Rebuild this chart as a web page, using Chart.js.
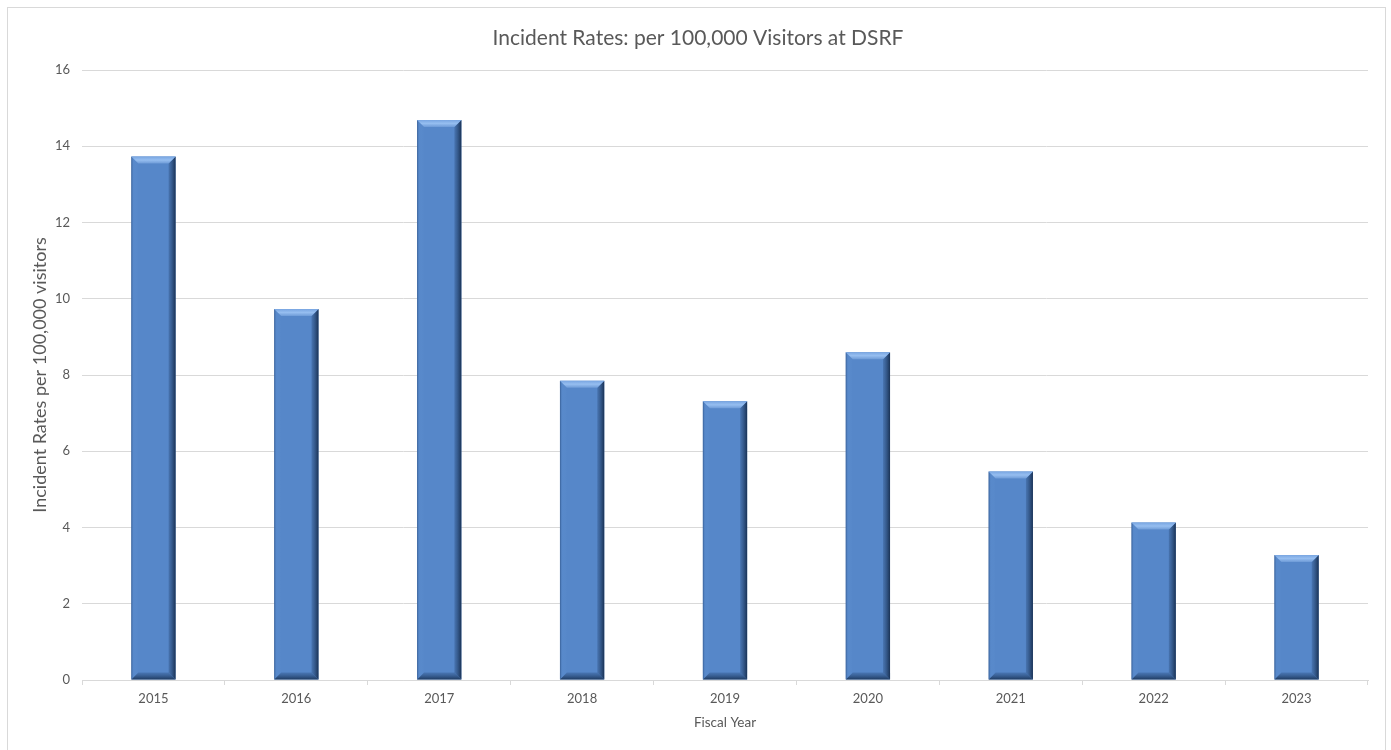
<!DOCTYPE html>
<html>
<head>
<meta charset="utf-8">
<script src="https://cdn.jsdelivr.net/npm/chart.js@4.4.1/dist/chart.umd.min.js"></script>
<style>
  html, body { margin: 0; padding: 0; background: #fff; }
  #wrap { position: relative; width: 1391px; height: 750px; }
  #frame {
    position: absolute; left: 7px; top: 7px; width: 1377px; height: 742px;
    border: 1px solid #d9d9d9; pointer-events: none;
  }
  canvas { position: absolute; left: 0; top: 0; }
</style>
</head>
<body>
<div id="wrap">
  <canvas id="chart" width="1391" height="750"></canvas>
  <div id="frame"></div>
</div>
<script>
const years = ['2015', '2016', '2017', '2018', '2019', '2020', '2021', '2022', '2023']
const incidentRates = [13.73, 9.73, 14.69, 7.85, 7.31, 8.60, 5.47, 4.13, 3.28]
const yMin = 0
const yMax = 16
const yStep = 2

const FONT = 'Lato, "Open Sans", sans-serif'
const TEXT = '#595959'
const GRID = '#d9d9d9'
const BAR = '#5687c9'

// bevelled look for the columns: light top edge, dark right and bottom edges
const bevelPlugin = {
  id: 'bevel',
  afterDatasetsDraw(chart) {
    const ctx = chart.ctx
    chart.getDatasetMeta(0).data.forEach((bar) => {
      const {x, y, base, width} = bar.getProps(['x', 'y', 'base', 'width'], true)
      const l = x - width / 2
      const r = x + width / 2
      const t = y
      const b = base
      const e = 7
      ctx.save()

      // right edge
      let g = ctx.createLinearGradient(r - e, 0, r, 0)
      g.addColorStop(0, 'rgba(60,100,155,0.55)')
      g.addColorStop(1, 'rgba(22,45,78,0.95)')
      ctx.fillStyle = g
      ctx.beginPath()
      ctx.moveTo(r, t); ctx.lineTo(r, b); ctx.lineTo(r - e, b - e); ctx.lineTo(r - e, t + e)
      ctx.closePath(); ctx.fill()

      // bottom edge
      g = ctx.createLinearGradient(0, b - e, 0, b)
      g.addColorStop(0, 'rgba(55,95,150,0.45)')
      g.addColorStop(1, 'rgba(25,50,85,0.9)')
      ctx.fillStyle = g
      ctx.beginPath()
      ctx.moveTo(l, b); ctx.lineTo(r, b); ctx.lineTo(r - e, b - e); ctx.lineTo(l + e, b - e)
      ctx.closePath(); ctx.fill()

      // left edge
      g = ctx.createLinearGradient(l, 0, l + e, 0)
      g.addColorStop(0, 'rgba(40,75,125,0.7)')
      g.addColorStop(0.3, 'rgba(90,140,205,0.3)')
      g.addColorStop(1, 'rgba(110,160,220,0.0)')
      ctx.fillStyle = g
      ctx.beginPath()
      ctx.moveTo(l, t); ctx.lineTo(l + e, t + e); ctx.lineTo(l + e, b - e); ctx.lineTo(l, b)
      ctx.closePath(); ctx.fill()

      // top edge
      g = ctx.createLinearGradient(0, t, 0, t + e)
      g.addColorStop(0, 'rgba(120,165,225,1)')
      g.addColorStop(0.5, 'rgba(150,190,240,1)')
      g.addColorStop(1, 'rgba(110,155,215,1)')
      ctx.fillStyle = g
      ctx.beginPath()
      ctx.moveTo(l, t); ctx.lineTo(r, t); ctx.lineTo(r - e, t + e); ctx.lineTo(l + e, t + e)
      ctx.closePath(); ctx.fill()

      ctx.restore()
    })
  }
}

new Chart(document.getElementById('chart'), {
  type: 'bar',
  data: {
    labels: years,
    datasets: [{
      data: incidentRates,
      backgroundColor: BAR,
      borderWidth: 0,
      barPercentage: 0.31,
      categoryPercentage: 1,
    }],
  },
  options: {
    responsive: false,
    animation: false,
    layout: { padding: { left: 28, right: 23, top: 0, bottom: 0 } },
    plugins: {
      legend: { display: false },
      tooltip: { enabled: false },
      title: {
        display: true,
        text: 'Incident Rates: per 100,000 Visitors at DSRF',
        color: TEXT,
        font: { family: FONT, size: 21, weight: 'normal' },
        padding: { top: 25.5, bottom: 19.3 },
      },
    },
    scales: {
      x: {
        grid: { drawOnChartArea: false, drawTicks: true, tickLength: 5, color: GRID, lineWidth: 1 },
        border: { color: GRID, width: 1 },
        ticks: { color: TEXT, font: { family: FONT, size: 13 }, padding: 6 },
        title: {
          display: true, text: 'Fiscal Year', color: TEXT,
          font: { family: FONT, size: 13.5 }, padding: { top: 0, bottom: 19 },
        },
        afterFit(scale) { scale.height = 70 },
      },
      y: {
        min: yMin,
        max: yMax,
        grid: { color: GRID, drawTicks: false, lineWidth: 1 },
        border: { display: false },
        ticks: { stepSize: yStep, color: TEXT, font: { family: FONT, size: 13 }, padding: 12 },
        title: {
          display: true, text: 'Incident Rates per 100,000 visitors', color: TEXT,
          font: { family: FONT, size: 18 }, padding: { top: 1, bottom: 0 },
        },
        afterFit(scale) { scale.width = 54 },
      },
    },
  },
  plugins: [bevelPlugin],
})
</script>
</body>
</html>
